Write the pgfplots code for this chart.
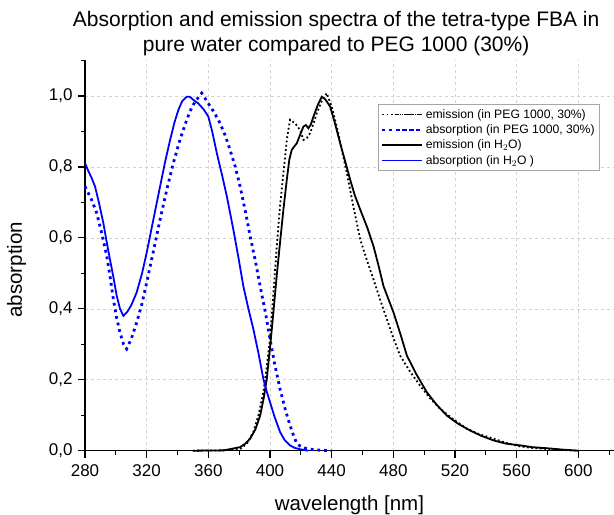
\documentclass[border=0pt]{standalone}
\usepackage{fontspec}
\setmainfont{Liberation Sans}
\usepackage{pgfplots}
\pgfplotsset{compat=1.18}
\begin{document}
\begin{tikzpicture}
\begin{axis}[
  name=ax,
  scale only axis,
  width=528.8pt, height=390.2pt,
  xmin=280, xmax=623, ymin=0, ymax=1.1,
  axis x line=bottom, axis y line=left,
  axis line style={-, line width=1.4pt},
  xtick={280,320,...,600},
  minor xtick={300,340,...,620},
  ytick={0,0.2,...,1.0},
  minor ytick={0.1,0.3,...,1.1},
  tick align=outside,
  major tick length=7pt, minor tick length=4pt,
  every tick/.style={black, line width=1.2pt},
  grid=major,
  major grid style={dashed, gray!35, line width=0.6pt},
  /pgf/number format/assume math mode=true,
  tick label style={font=\fontsize{17}{19}\selectfont},
  yticklabel style={xshift=-2pt, /pgf/number format/.cd, use comma, fixed, fixed zerofill, precision=1},
  xticklabel style={yshift=-3pt, /pgf/number format/.cd, fixed, 1000 sep={}},
  xlabel={wavelength [nm]},
  ylabel={absorption},
  xlabel style={font=\fontsize{20.5}{23}\selectfont, at={(axis description cs:0.5,-0.152)}, anchor=base, inner sep=0pt},
  ylabel style={font=\fontsize{20.5}{23}\selectfont, at={(axis description cs:-0.1295,0.464)}, anchor=center, inner sep=0pt},
  title={Absorption and emission spectra of the tetra-type FBA in\\pure water compared to PEG 1000 (30\%)},
  title style={font=\fontsize{21}{25}\selectfont, align=center, at={(axis description cs:0.475,1)}, anchor=south, inner sep=0pt, yshift=-1.7pt},
  legend style={at={(axis description cs:0.974,0.8885)}, anchor=north east, draw=gray!70, line width=0.8pt, font=\fontsize{12.2}{14}\selectfont, fill=white, inner xsep=3pt, inner ysep=3pt, row sep=1pt, cells={anchor=west}},
  legend image code/.code={\path (0pt,0pt) -- (40pt,0pt); \draw[#1] (15pt,0pt) -- (40pt,0pt);},
  legend cell align=left,
  clip=false,
]
% emission PEG (black dotted)
\addplot[black, line width=1.8pt, dash pattern=on 1.8pt off 2.5pt] coordinates {
(350,0) (370,0.001) (380.6,0.005) (385,0.02) (389.2,0.053) (392.5,0.10) (395.7,0.165) (398,0.24) (400,0.315) (402,0.43) (404.4,0.577) (406.5,0.69) (408.7,0.783) (411,0.88) (413,0.933) (416.3,0.923) (419.5,0.904) (421.7,0.876) (424,0.882) (426,0.895) (428,0.92) (430.3,0.951) (433.5,0.985) (436.8,1.008) (440,0.97) (443.3,0.914) (446.5,0.85) (449.8,0.783) (454,0.69) (458.5,0.596) (463,0.535) (467.1,0.483) (471.5,0.425) (475.8,0.371) (480,0.318) (484.4,0.268) (491,0.222) (497.4,0.183) (504,0.147) (510.4,0.118) (519,0.088) (527.7,0.062) (536,0.046) (545,0.034) (553,0.022) (562.3,0.012) (570,0.008) (579.6,0.005) (590,0.002) (600,0)
};
\addlegendentry{emission (in PEG 1000, 30\%)}
% absorption PEG (blue dotted)
\addplot[blue, line width=2.8pt, dash pattern=on 2.8pt off 3.9pt] coordinates {
(280,0.745) (284,0.71) (287.6,0.670) (291,0.61) (294.1,0.549) (296.3,0.49) (298.4,0.427) (300.5,0.375) (302.7,0.333) (305,0.30) (307,0.287) (310,0.315) (313.5,0.361) (317,0.415) (320,0.474) (324.5,0.565) (328.7,0.652) (333,0.735) (337.3,0.811) (341.5,0.875) (346,0.933) (349,0.965) (351.4,0.984) (355.7,1.008) (360,0.979) (364,0.952) (367.6,0.923) (371,0.888) (374.1,0.848) (377.5,0.80) (380.6,0.745) (384,0.675) (387.1,0.605) (390.5,0.535) (393.6,0.464) (397,0.39) (400,0.315) (403,0.245) (406.5,0.174) (410,0.115) (413,0.071) (415.5,0.040) (417.4,0.020) (420.5,0.010) (423.9,0.006) (430,0.002) (440,0)
};
\addlegendentry{absorption (in PEG 1000, 30\%)}
% emission H2O (black solid)
\addplot[black, line width=1.8pt] coordinates {
(350,0) (370,0.001) (380.6,0.010) (384,0.02) (387.1,0.034) (390.5,0.06) (393.6,0.099) (396,0.15) (397.9,0.202) (400,0.29) (402.2,0.390) (404.5,0.50) (406.5,0.586) (408.7,0.68) (410.9,0.764) (412.5,0.82) (414.1,0.848) (417.4,0.867) (419.5,0.89) (421.7,0.914) (423.3,0.918) (424.9,0.909) (426.5,0.92) (428.2,0.942) (431,0.975) (433.6,0.998) (436,0.99) (439,0.970) (442,0.925) (445.5,0.867) (448.8,0.815) (452,0.764) (455,0.72) (458.5,0.680) (463,0.63) (467.1,0.577) (470.5,0.52) (473.6,0.464) (477,0.425) (480.1,0.390) (484.5,0.33) (488.8,0.268) (495,0.215) (501.7,0.165) (508,0.13) (514.7,0.099) (522,0.076) (529.8,0.057) (537,0.042) (545,0.029) (553,0.020) (562.3,0.015) (570,0.010) (579.6,0.007) (590,0.003) (600,0)
};
\addlegendentry{emission (in H$_2$O)}
% absorption H2O (blue solid)
\addplot[blue, line width=1.8pt] coordinates {
(280,0.811) (282,0.79) (284.3,0.769) (286.5,0.745) (289,0.70) (291.9,0.642) (294,0.59) (296.2,0.539) (298.4,0.49) (300.6,0.436) (302.7,0.40) (304.9,0.380) (307.5,0.392) (310,0.41) (313.5,0.446) (317,0.50) (320,0.558) (324.5,0.655) (328.7,0.745) (332,0.815) (335.2,0.876) (338,0.925) (340.6,0.961) (343,0.985) (346,0.998) (348,0.998) (350.3,0.989) (353.5,0.979) (357,0.962) (360,0.942) (362.5,0.90) (365.5,0.839) (369,0.775) (372,0.717) (376.2,0.624) (379.5,0.545) (382.7,0.464) (386,0.40) (389.2,0.343) (392.5,0.275) (395.7,0.202) (398,0.165) (400,0.137) (403,0.095) (406.5,0.053) (409.5,0.030) (413,0.015) (416,0.008) (419.5,0.004) (425,0)
};
\addlegendentry{absorption (in H$_2$O )}
\end{axis}
\pgfresetboundingbox
\path[use as bounding box] ([xshift=-85pt,yshift=-63.3pt]ax.south west) rectangle ([xshift=0.2pt,yshift=60.5pt]ax.north east);
\end{tikzpicture}
\end{document}
